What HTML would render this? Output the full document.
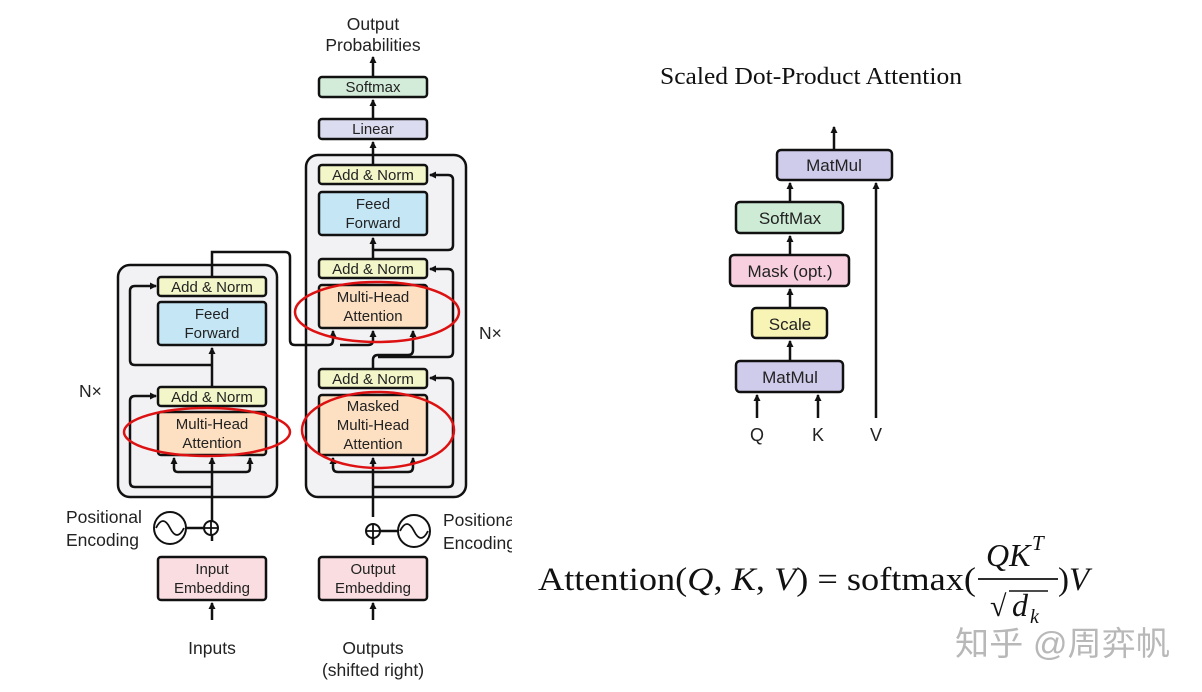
<!DOCTYPE html>
<html><head><meta charset="utf-8"><style>
html,body{margin:0;padding:0;background:#fff}
svg{display:block}
text{font-family:"Liberation Sans",sans-serif;fill:#222}
.s{font-family:"Liberation Serif",serif;fill:#111}
</style></head><body>
<svg width="1202" height="692" viewBox="0 0 1202 692" xmlns="http://www.w3.org/2000/svg">
<defs>
<marker id="a" markerWidth="8" markerHeight="8" refX="6" refY="4" orient="auto" markerUnits="userSpaceOnUse"><path d="M0,0.5 L7,4 L0,7.5 Z" fill="#111"/></marker>
<clipPath id="c"><rect x="0" y="0" width="512" height="692"/></clipPath>
</defs>
<rect width="1202" height="692" fill="#fff"/>
<rect x="118" y="265" width="159" height="232" rx="12" fill="#f2f2f5" stroke="#111" stroke-width="2.5"/>
<rect x="306" y="155" width="160" height="342" rx="12" fill="#f2f2f5" stroke="#111" stroke-width="2.5"/>
<g fill="none" stroke="#111" stroke-width="2.5">
<path d="M212,541 V520" marker-end="url(#a)"/>
<path d="M212,620 V603" marker-end="url(#a)"/>
<path d="M212,521 V458" marker-end="url(#a)"/>
<path d="M212,472 H178 q-4,0 -4,-4 V458" marker-end="url(#a)"/>
<path d="M212,472 H246 q4,0 4,-4 V458" marker-end="url(#a)"/>
<path d="M212,487 H135 q-5,0 -5,-5 V401 q0,-5 5,-5 H156" marker-end="url(#a)"/>
<path d="M212,387 V348" marker-end="url(#a)"/>
<path d="M212,365 H135 q-5,0 -5,-5 V291 q0,-5 5,-5 H156" marker-end="url(#a)"/>
<path d="M212,277 V252 H285 q5,0 5,5 V340 q0,5 5,5 H328 q5,0 5,-5 V331" marker-end="url(#a)"/>
<path d="M340,345 H368 q5,0 5,-5 V331" marker-end="url(#a)"/>
<path d="M373,620 V603" marker-end="url(#a)"/>
<path d="M373,545 V524"/>
<path d="M373,517 V458" marker-end="url(#a)"/>
<path d="M373,472 H338 q-5,0 -5,-5 V458" marker-end="url(#a)"/>
<path d="M373,472 H408 q5,0 5,-5 V458" marker-end="url(#a)"/>
<path d="M373,487 H448 q5,0 5,-5 V383 q0,-5 -5,-5 H430" marker-end="url(#a)"/>
<path d="M373,369 V360 q0,-5 5,-5 H408 q5,0 5,-5 V331" marker-end="url(#a)"/>
<path d="M378,357 H448 q5,0 5,-5 V274 q0,-5 -5,-5 H430" marker-end="url(#a)"/>
<path d="M373,259 V238" marker-end="url(#a)"/>
<path d="M373,250 H448 q5,0 5,-5 V180 q0,-5 -5,-5 H430" marker-end="url(#a)"/>
<path d="M373,165 V142" marker-end="url(#a)"/>
<path d="M373,119 V100" marker-end="url(#a)"/>
<path d="M373,77 V57" marker-end="url(#a)"/>
<path d="M186,528 H204"/>
<path d="M380,531 H398"/>
</g>
<g stroke="#111" stroke-width="2.5">
<rect x="158" y="277" width="108" height="19" rx="3" fill="#f3f6c8"/>
<rect x="158" y="302" width="108" height="43" rx="3" fill="#c5e6f5"/>
<rect x="158" y="387" width="108" height="19" rx="3" fill="#f3f6c8"/>
<rect x="158" y="412" width="108" height="43" rx="3" fill="#fde0c2"/>
<rect x="158" y="557" width="108" height="43" rx="3" fill="#f9dde0"/>
<rect x="319" y="165" width="108" height="19" rx="3" fill="#f3f6c8"/>
<rect x="319" y="192" width="108" height="43" rx="3" fill="#c5e6f5"/>
<rect x="319" y="259" width="108" height="19" rx="3" fill="#f3f6c8"/>
<rect x="319" y="285" width="108" height="43" rx="3" fill="#fde0c2"/>
<rect x="319" y="369" width="108" height="19" rx="3" fill="#f3f6c8"/>
<rect x="319" y="395" width="108" height="60" rx="3" fill="#fde0c2"/>
<rect x="319" y="557" width="108" height="43" rx="3" fill="#f9dde0"/>
<rect x="319" y="119" width="108" height="20" rx="3" fill="#dcdcf0"/>
<rect x="319" y="77" width="108" height="20" rx="3" fill="#d3ecd9"/>
</g>
<g fill="#fff" stroke="#111" stroke-width="2">
<circle cx="170" cy="528" r="16"/>
<circle cx="211" cy="528" r="7"/>
<circle cx="414" cy="531" r="16"/>
<circle cx="373" cy="531" r="7"/>
</g>
<g fill="none" stroke="#111" stroke-width="1.8">
<path d="M156,528 q7,-14 14,0 t14,0"/>
<path d="M400,531 q7,-14 14,0 t14,0"/>
<path d="M204,528 H218 M211,521 V535 M366,531 H380 M373,524 V538"/>
</g>
<g fill="none" stroke="#d11" stroke-width="2.5">
<ellipse cx="207" cy="432" rx="83" ry="24"/>
<ellipse cx="377" cy="312" rx="82" ry="30"/>
<ellipse cx="378" cy="430" rx="76" ry="38"/>
</g>
<g font-size="15" text-anchor="middle">
<text x="212" y="292">Add &amp; Norm</text>
<text x="212" y="319">Feed</text><text x="212" y="338">Forward</text>
<text x="212" y="402">Add &amp; Norm</text>
<text x="212" y="429">Multi-Head</text><text x="212" y="448">Attention</text>
<text x="212" y="574">Input</text><text x="212" y="593">Embedding</text>
<text x="373" y="180">Add &amp; Norm</text>
<text x="373" y="209">Feed</text><text x="373" y="228">Forward</text>
<text x="373" y="274">Add &amp; Norm</text>
<text x="373" y="302">Multi-Head</text><text x="373" y="321">Attention</text>
<text x="373" y="384">Add &amp; Norm</text>
<text x="373" y="411">Masked</text><text x="373" y="430">Multi-Head</text><text x="373" y="449">Attention</text>
<text x="373" y="574">Output</text><text x="373" y="593">Embedding</text>
<text x="373" y="134">Linear</text>
<text x="373" y="92">Softmax</text>
<text x="373" y="30" font-size="17.5">Output</text>
<text x="373" y="51" font-size="17.5">Probabilities</text>
<text x="212" y="654" font-size="17.5">Inputs</text>
<text x="373" y="654" font-size="17.5">Outputs</text>
<text x="373" y="676" font-size="17.5">(shifted right)</text>
</g>
<g font-size="17.5" clip-path="url(#c)">
<text x="66" y="523">Positional</text><text x="66" y="546">Encoding</text>
<text x="443" y="526">Positional</text><text x="443" y="549">Encoding</text>
<text x="79" y="397">N×</text>
<text x="479" y="339">N×</text>
</g>
<text class="s" x="660" y="84" font-size="24" textLength="302" lengthAdjust="spacingAndGlyphs">Scaled Dot-Product Attention</text>
<g fill="none" stroke="#111" stroke-width="2.5">
<path d="M834,149 V127" marker-end="url(#a)"/>
<path d="M790,202 V183" marker-end="url(#a)"/>
<path d="M790,255 V236" marker-end="url(#a)"/>
<path d="M790,308 V289" marker-end="url(#a)"/>
<path d="M790,361 V341" marker-end="url(#a)"/>
<path d="M757,418 V395" marker-end="url(#a)"/>
<path d="M818,418 V395" marker-end="url(#a)"/>
<path d="M876,418 V183" marker-end="url(#a)"/>
</g>
<g stroke="#111" stroke-width="2.5">
<rect x="777" y="150" width="115" height="30" rx="4" fill="#cfcbea"/>
<rect x="736" y="202" width="107" height="31" rx="4" fill="#cdebd5"/>
<rect x="730" y="255" width="119" height="31" rx="4" fill="#f7cfde"/>
<rect x="752" y="308" width="75" height="30" rx="4" fill="#f8f4b5"/>
<rect x="736" y="361" width="107" height="31" rx="4" fill="#cfcbea"/>
</g>
<g font-size="17" text-anchor="middle">
<text x="834" y="171">MatMul</text>
<text x="790" y="224">SoftMax</text>
<text x="790" y="277">Mask (opt.)</text>
<text x="790" y="330">Scale</text>
<text x="790" y="383">MatMul</text>
<text x="757" y="441" font-size="18">Q</text>
<text x="818" y="441" font-size="18">K</text>
<text x="876" y="441" font-size="18">V</text>
</g>
<text class="s" x="538" y="590" font-size="33" textLength="438" lengthAdjust="spacingAndGlyphs">Attention(<tspan font-style="italic">Q</tspan>, <tspan font-style="italic">K</tspan>, <tspan font-style="italic">V</tspan>) = softmax(</text>
<text class="s" x="986" y="566" font-size="32" font-style="italic">QK</text>
<text class="s" x="1032" y="550" font-size="21" font-style="italic">T</text>
<text class="s" x="1058" y="590" font-size="33">)<tspan font-style="italic">V</tspan></text>
<text class="s" x="990" y="616" font-size="30">√</text>
<text class="s" x="1012" y="616" font-size="32" font-style="italic">d</text>
<text class="s" x="1030" y="623" font-size="20" font-style="italic">k</text>
<line x1="978" y1="579" x2="1058" y2="579" stroke="#111" stroke-width="1.8"/>
<line x1="1009" y1="591" x2="1048" y2="591" stroke="#111" stroke-width="1.5"/>
<text x="955" y="655" font-size="33" textLength="215" lengthAdjust="spacingAndGlyphs" style="font-family:'Liberation Sans','Noto Sans CJK SC',sans-serif;fill:#b8b8b8">知乎 @周弈帆</text>
</svg>
</body></html>
